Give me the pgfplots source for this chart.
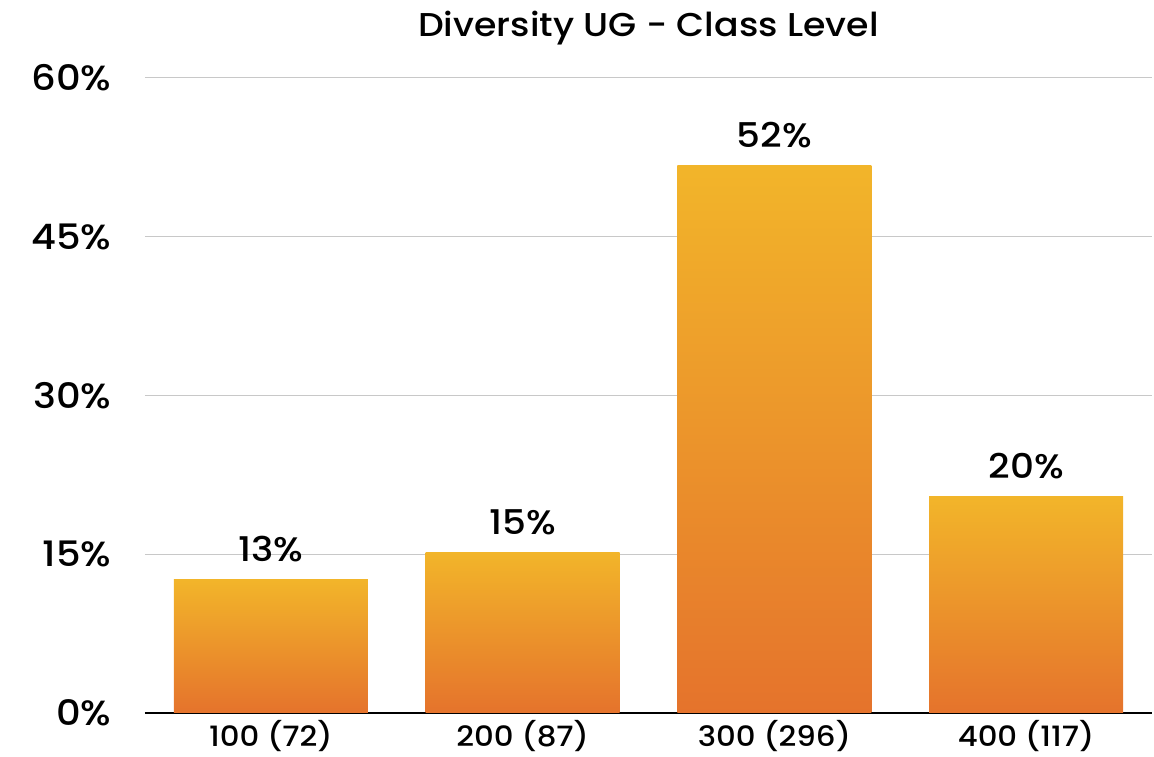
\documentclass[border=0pt]{standalone}
\usepackage{pgfplots}
\pgfplotsset{compat=1.18}
\usepackage{fontspec}
\setmainfont{Poppins}[UprightFont={* Medium}, FakeStretch=1.1]
\definecolor{bartop}{HTML}{F2B52A}
\definecolor{barbot}{HTML}{E5732C}
\definecolor{gridc}{HTML}{C8C8C8}
\pgfplotsset{gradbar/.style={ybar, mark=none, bar width=194pt, bar shift=0pt, draw=none, top color=bartop, bottom color=barbot}}
\begin{document}
\begin{tikzpicture}
\begin{axis}[
  name=ax,
  scale only axis,
  width=1007pt, height=635pt,
  xmin=-0.5, xmax=3.5,
  ymin=0, ymax=60,
  ytick={0,15,30,45,60},
  yticklabels={0\%,15\%,30\%,45\%,60\%},
  xtick={0,1,2,3},
  xticklabels={100 (72),200 (87),300 (296),400 (117)},
  ymajorgrids,
  grid style={gridc, line width=1pt},
  axis x line*=bottom,
  axis y line*=left,
  y axis line style={draw=none},
  x axis line style={black, line width=2pt, -},
  major tick length=0pt,
  /pgf/number format/assume math mode=true,
  yticklabel style={font=\fontsize{35}{40}\selectfont, xshift=-30pt},
  xticklabel style={font=\fontsize{28}{32}\selectfont, yshift=-4pt},
  title={Diversity UG - Class Level},
  title style={font=\fontsize{33}{38}\selectfont, at={(0.5,1)}, anchor=base, yshift=35pt},
  nodes near coords,
  point meta=explicit symbolic,
  nodes near coords style={font=\fontsize{34}{38}\selectfont, anchor=south, yshift=14pt, text=black},
  clip=false,
]
\addplot[gradbar] coordinates {(0,12.59)[13\%]};
\addplot[gradbar] coordinates {(1,15.21)[15\%]};
\addplot[gradbar] coordinates {(2,51.75)[52\%]};
\addplot[gradbar] coordinates {(3,20.45)[20\%]};
\end{axis}
\pgfresetboundingbox
\useasboundingbox (-145pt,-44pt) rectangle (1009pt,713pt);
\end{tikzpicture}
\end{document}
